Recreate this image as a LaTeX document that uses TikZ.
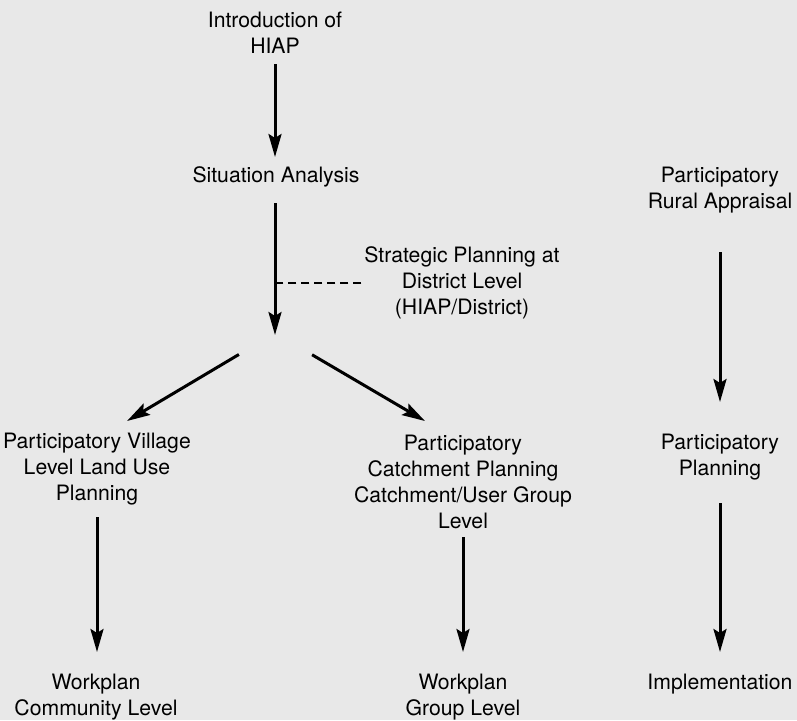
\documentclass[tikz,border=0pt]{standalone}
\usepackage{fontspec}
\setmainfont{TeX Gyre Heros}
\usetikzlibrary{arrows.meta}
\definecolor{bggray}{RGB}{232,232,232}

\begin{document}
\begin{tikzpicture}[x=1pt,y=-1pt,
  >={Stealth[length=23pt,width=13pt,inset=4pt]},
  txt/.style={align=center,inner sep=0pt,font=\fontsize{21.2}{26}\selectfont},
  flow/.style={->,line width=3pt}]
\fill[bggray] (0,0) rectangle (797,720);
\useasboundingbox (0,0) rectangle (797,720);
\node     (intro) at (275, 33) [txt] {Introduction of\\HIAP};
\node       (sit) at (276,177) [txt] {Situation Analysis};
\node     (strat) at (462,283) [txt] {Strategic Planning at\\District Level\\(HIAP/District)};
\node       (pra) at (720,190) [txt] {Participatory\\Rural Appraisal};
\node   (village) at ( 97,469) [txt] {Participatory Village\\Level Land Use\\Planning};
\node     (catch) at (463,482) [txt] {Participatory\\Catchment Planning\\Catchment/User Group\\Level};
\node        (pp) at (720,457) [txt] {Participatory\\Planning};
\node     (wpcom) at ( 96,697) [txt] {Workplan\\Community Level};
\node     (wpgrp) at (463,697) [txt] {Workplan\\Group Level};
\node      (impl) at (720,684) [txt] {Implementation};
\coordinate (split) at (275,333);
\coordinate  (ltip) at (127,421);
\coordinate  (rtip) at (425,421);
% main line
\draw [flow,shorten <=31pt,shorten >=20pt] (intro.center) -- (intro.center |- sit.center);
\draw [flow,shorten <=26pt,shorten >=-2pt] (intro.center |- sit.center) -- (split);
\draw [line width=2.4pt,dash pattern=on 8pt off 5pt,shorten <=3pt]
  (strat.west) -- (strat.west -| split);
\draw [flow,shorten <=42pt] (split) -- (ltip);
\draw [flow,shorten <=43pt] (split) -- (rtip);
\draw [flow,shorten <=48pt,shorten >=45pt] (village.center) -- (village.center |- wpcom.center);
\draw [flow,shorten <=55pt,shorten >=45pt] (catch.center) -- (wpgrp.center);
% right column
\draw [flow,shorten <=62pt,shorten >=55pt] (pra.center) -- (pp.center);
\draw [flow,shorten <=46pt,shorten >=32pt] (pp.center) -- (impl.center);
\end{tikzpicture}
\end{document}
